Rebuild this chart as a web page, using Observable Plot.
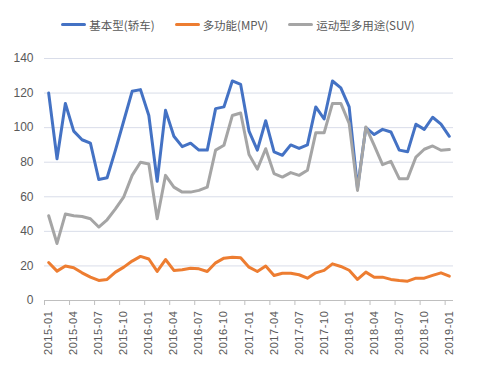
<!DOCTYPE html>
<html><head><meta charset="utf-8">
<script src="https://cdn.jsdelivr.net/npm/d3@7"></script>
<script src="https://cdn.jsdelivr.net/npm/@observablehq/plot@0.6"></script>
<style>
body{margin:0;background:#fff;}
#legend{height:45px;display:flex;justify-content:center;align-items:center;gap:20px;box-sizing:border-box;padding-top:4px;padding-right:8px;
  font-family:"Noto Sans CJK SC","Noto Sans",sans-serif;font-size:11.5px;color:#595959;}
#legend .item{display:flex;align-items:center;}
#legend .sw{width:25px;height:3px;border-radius:2px;margin-right:3px;}
#chart svg text{font-family:"Liberation Sans",Arial,sans-serif;}
#chart g[aria-label="x-axis tick label"] text{letter-spacing:0.6px;}
</style></head><body>
<div id="legend"></div>
<div id="chart"></div>
<script>
const months = ["2015-01","2015-02","2015-03","2015-04","2015-05","2015-06","2015-07","2015-08","2015-09","2015-10","2015-11","2015-12",
"2016-01","2016-02","2016-03","2016-04","2016-05","2016-06","2016-07","2016-08","2016-09","2016-10","2016-11","2016-12",
"2017-01","2017-02","2017-03","2017-04","2017-05","2017-06","2017-07","2017-08","2017-09","2017-10","2017-11","2017-12",
"2018-01","2018-02","2018-03","2018-04","2018-05","2018-06","2018-07","2018-08","2018-09","2018-10","2018-11","2018-12",
"2019-01"];
const sedan = [120,82,114,98,93,91,70,71,87,104,121,122,107,69,110,95,89,91,87,87,111,112,127,125,98,87,104,86,84,90,88,90,112,105,127,123,112,65,100,96,99,97.5,87,86,102,99,106,102,95];
const mpv = [22,17,20,19,16,13.5,11.6,12.2,16.4,19.3,22.8,25.5,24,16.8,23.7,17.4,17.8,18.7,18.3,16.8,21.8,24.5,25,24.7,19.3,16.8,19.9,14.5,15.8,15.8,14.9,12.9,16,17.4,21.2,19.7,17.5,12.2,16.4,13.5,13.5,12.2,11.6,11.2,12.9,12.9,14.5,16,14.1];
const suv = [49,33,50,49,48.6,47.3,42.5,46.7,53,60,72.4,80,79,47.3,72.4,65.6,62.7,62.7,63.7,65.6,87,89.8,107,108.5,84.5,76,87.8,73.4,71.4,74,72.4,75.3,97,97,114,114,102.5,63.7,100.4,89.8,78.6,80.5,70.5,70.5,83,87.5,89.4,86.9,87.3];
const seriesNames = ["基本型(轿车)","多功能(MPV)","运动型多用途(SUV)"];
const seriesColors = ["#4472C4","#ED7D31","#A5A5A5"];
const yTicks = [0,20,40,60,80,100,120,140];

const lists = [sedan, mpv, suv];
const rows = [];
lists.forEach((arr, s) => arr.forEach((v, i) => rows.push({i, month: months[i], value: v, series: seriesNames[s]})));

const labelIdx = months.map((m, i) => i).filter(i => i % 3 === 0);
const boundaries = labelIdx.map(i => i - 0.5);

const legend = document.getElementById("legend");
seriesNames.forEach((n, k) => {
  const it = document.createElement("div"); it.className = "item";
  const sw = document.createElement("span"); sw.className = "sw"; sw.style.background = seriesColors[k];
  const tx = document.createElement("span"); tx.textContent = n;
  it.appendChild(sw); it.appendChild(tx); legend.appendChild(it);
});

const chart = Plot.plot({
  width: 484, height: 326,
  marginTop: 13, marginLeft: 44, marginRight: 31, marginBottom: 71,
  x: {type: "linear", domain: [-0.5, 48.5]},
  y: {domain: [0, 140]},
  color: {domain: seriesNames, range: seriesColors},
  style: {fontSize: "12px", color: "#595959", background: "#fff"},
  marks: [
    Plot.gridY(yTicks.filter(d => d > 0), {stroke: "#d9dde9", strokeOpacity: 1, strokeWidth: 1}),
    Plot.ruleY([0], {stroke: "#bfbfbf"}),
    Plot.axisY({ticks: yTicks, tickSize: 0, tickPadding: 11, label: null, fontSize: 12}),
    Plot.axisX({ticks: boundaries, tickSize: 5, tickFormat: () => "", label: null, stroke: "#bfbfbf"}),
    Plot.axisX({ticks: labelIdx, tickSize: 0, tickRotate: -90, tickPadding: 10, tickFormat: i => months[i], label: null, fontSize: 11}),
    Plot.line(rows, {x: "i", y: "value", z: "series", stroke: "series", strokeWidth: 3, strokeLinejoin: "round", strokeLinecap: "round"})
  ]
});
document.getElementById("chart").appendChild(chart);
</script>
</body></html>
